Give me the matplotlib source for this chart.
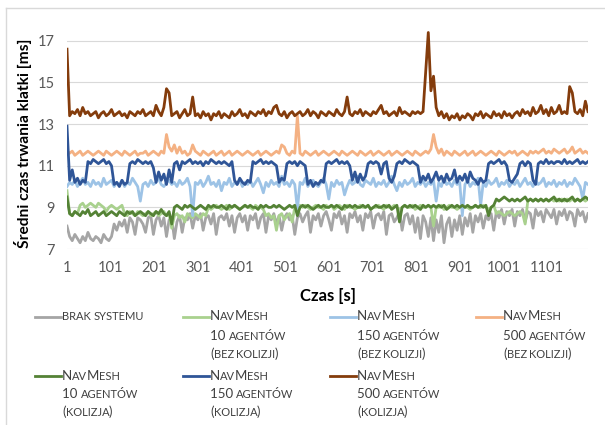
import matplotlib
matplotlib.use("Agg")
import matplotlib.pyplot as plt
import numpy as np
from matplotlib.lines import Line2D
from matplotlib.font_manager import FontProperties, findfont, get_font

plt.rcParams['font.family'] = ['Lato', 'DejaVu Sans']

# ---------------- data (sampled every 6 s, t = 1 .. 1195) ----------------
sample_step = 6
x_tick_labels = ['1', '101', '201', '301', '401', '501', '601', '701', '801', '901', '1001', '1101']
y_ticks = [7, 9, 11, 13, 15, 17]

brak_systemu = [
    8.1, 7.6, 7.4, 7.7, 7.5, 7.3, 7.6, 7.4, 7.8, 7.5,
    7.4, 7.6, 7.5, 7.3, 7.7, 7.5, 7.4, 7.6, 8.2, 7.9,
    8.3, 8.1, 8.4, 7.8, 8.5, 8.3, 7.7, 8.5, 8.4, 8.2,
    7.8, 8.5, 8.6, 7.7, 8.4, 8.6, 8.1, 8.5, 7.6, 8.4,
    8.5, 7.5, 8.3, 8.6, 7.8, 8.5, 8.4, 8.7, 8.0, 8.6,
    8.4, 8.7, 7.9, 8.5, 8.6, 8.2, 8.7, 7.7, 8.5, 8.6,
    8.4, 8.7, 8.1, 8.6, 7.8, 8.5, 8.7, 8.3, 8.6, 7.9,
    8.6, 8.4, 8.7, 8.0, 8.5, 8.7, 7.8, 8.6, 8.4, 8.7,
    8.2, 8.6, 7.9, 8.5, 8.7, 8.4, 8.6, 7.7, 8.5, 8.7,
    8.3, 8.6, 8.8, 7.8, 8.6, 8.4, 8.7, 8.1, 8.6, 8.8,
    8.4, 7.9, 8.7, 8.5, 8.8, 8.2, 8.6, 7.8, 8.7, 8.5,
    8.8, 8.3, 8.6, 7.9, 8.7, 8.5, 8.8, 8.0, 8.6, 8.7,
    8.4, 8.8, 7.7, 8.6, 8.7, 8.3, 8.5, 8.8, 7.9, 8.6,
    8.7, 8.2, 8.6, 7.8, 8.5, 7.5, 8.6, 8.3, 7.6, 8.5,
    7.4, 8.4, 7.8, 8.6, 7.3, 8.2, 8.5, 7.6, 8.4, 7.9,
    8.6, 7.7, 8.5, 8.1, 8.7, 7.8, 8.6, 8.3, 8.7, 8.0,
    8.6, 8.4, 8.7, 7.9, 8.8, 8.5, 8.9, 8.2, 8.8, 8.6,
    8.9, 8.1, 8.8, 8.6, 8.9, 8.3, 8.8, 8.7, 8.0, 8.9,
    8.6, 8.8, 8.3, 8.9, 8.7, 8.5, 8.9, 8.2, 8.8, 8.6,
    8.9, 8.4, 8.8, 8.7, 8.1, 8.9, 8.6, 8.8, 8.3, 8.7,
]

nav_10_bez = [
    9.8, 8.7, 8.6, 8.8, 8.7, 9.1, 9.2, 9.0, 9.1, 9.2,
    9.1, 9.0, 9.2, 9.1, 9.0, 8.8, 9.0, 9.1, 9.0, 8.9,
    9.0, 9.1, 8.7, 8.6, 8.8, 8.7, 8.6, 8.8, 8.7, 8.6,
    8.7, 8.8, 8.6, 8.7, 8.8, 8.6, 8.7, 8.8, 8.6, 8.7,
    8.0, 8.6, 8.7, 8.5, 8.6, 8.3, 8.7, 8.6, 8.5, 8.7,
    8.6, 8.5, 8.7, 8.6, 9.0, 8.9, 9.0, 9.1, 9.0, 8.9,
    9.0, 9.1, 8.9, 9.0, 9.1, 9.0, 8.9, 9.0, 9.1, 9.0,
    9.0, 8.9, 9.1, 9.0, 9.0, 8.9, 8.6, 8.7, 8.5, 8.6,
    7.9, 8.6, 8.7, 8.4, 8.6, 8.7, 8.3, 9.0, 8.9, 9.1,
    9.0, 9.1, 9.0, 8.9, 9.0, 9.1, 9.0, 9.0, 8.9, 9.1,
    9.0, 9.1, 8.9, 9.0, 9.1, 9.0, 8.9, 9.1, 9.0, 9.0,
    8.9, 9.0, 9.1, 9.0, 9.0, 9.1, 8.9, 9.0, 9.0, 9.1,
    9.0, 8.9, 9.1, 9.0, 9.0, 9.1, 9.0, 8.9, 9.0, 9.1,
    9.0, 9.0, 9.1, 8.9, 9.0, 9.1, 9.0, 9.0, 9.1, 9.0,
    8.1, 9.0, 9.0, 9.1, 8.9, 9.0, 9.1, 9.0, 9.0, 8.9,
    9.0, 9.1, 9.0, 9.0, 8.9, 9.0, 9.1, 9.0, 9.0, 9.1,
    9.0, 8.9, 9.0, 9.1, 8.7, 8.8, 8.7, 8.6, 8.7, 8.8,
    8.7, 8.6, 8.7, 8.8, 8.7, 8.2, 9.3, 9.4, 9.3, 9.4,
    9.3, 9.4, 9.3, 9.4, 9.3, 9.4, 9.3, 9.4, 9.3, 9.4,
    9.3, 9.4, 9.3, 9.4, 9.3, 9.4, 9.3, 9.4, 9.3, 9.4,
]

nav_150_bez = [
    10.0, 10.2, 10.1, 10.3, 10.0, 10.2, 10.4, 10.1, 10.2, 10.0,
    10.3, 10.1, 10.2, 10.0, 10.4, 10.1, 10.2, 10.3, 10.0, 10.2,
    10.1, 10.3, 10.0, 10.2, 10.1, 10.4, 10.2, 10.0, 9.3, 10.1,
    10.2, 10.0, 10.3, 10.1, 10.2, 10.4, 10.1, 10.0, 10.2, 10.3,
    10.1, 10.2, 10.0, 10.3, 10.1, 10.2, 10.4, 10.0, 8.6, 10.2,
    10.1, 10.3, 10.0, 10.2, 10.5, 10.1, 10.2, 10.0, 10.3, 9.8,
    10.2, 10.1, 10.4, 10.0, 10.2, 10.1, 10.3, 10.0, 10.2, 10.1,
    10.3, 10.0, 10.2, 10.4, 10.1, 9.7, 10.2, 10.0, 10.3, 10.1,
    10.2, 10.0, 10.5, 10.1, 10.2, 10.0, 10.3, 10.1, 8.9, 10.2,
    10.1, 10.4, 10.0, 10.2, 10.3, 10.1, 10.0, 10.2, 10.4, 10.1,
    9.4, 10.2, 10.0, 10.3, 10.1, 10.2, 9.6, 10.0, 10.3, 10.1,
    10.2, 10.5, 10.1, 10.0, 10.3, 10.2, 10.1, 10.4, 10.0, 10.2,
    10.1, 10.3, 10.0, 10.2, 10.5, 10.1, 9.8, 10.2, 10.0, 10.3,
    10.1, 10.2, 10.4, 10.0, 10.2, 10.1, 10.3, 10.0, 10.2, 10.1,
    10.3, 9.3, 10.2, 10.0, 10.4, 10.1, 10.2, 10.0, 10.3, 10.1,
    10.2, 8.6, 10.1, 10.3, 10.0, 10.2, 10.1, 10.4, 9.1, 10.2,
    10.0, 10.3, 10.1, 10.2, 10.4, 10.0, 10.2, 10.1, 10.3, 10.0,
    10.2, 10.1, 10.3, 10.0, 10.2, 10.4, 10.1, 10.2, 10.0, 10.3,
    10.1, 10.2, 10.4, 10.0, 10.2, 10.1, 10.3, 10.0, 10.2, 10.1,
    10.3, 10.0, 10.2, 10.1, 10.4, 10.2, 10.0, 9.4, 10.2, 10.1,
]

nav_500_bez = [
    11.7, 11.6, 11.7, 11.5, 11.6, 11.7, 11.5, 11.6, 11.7, 11.6,
    11.5, 11.6, 11.7, 11.6, 11.5, 11.7, 11.6, 11.5, 11.6, 11.7,
    11.6, 11.5, 11.7, 11.6, 11.5, 11.6, 11.7, 11.5, 11.6, 11.6,
    11.7, 11.5, 11.6, 11.7, 11.6, 11.5, 11.7, 11.6, 12.5, 11.9,
    11.7, 12.0, 11.6, 11.9, 11.6, 11.7, 11.5, 11.6, 12.0, 11.7,
    11.6, 11.5, 11.7, 11.6, 11.5, 11.6, 11.7, 11.5, 11.6, 11.7,
    11.5, 11.6, 11.7, 11.5, 11.6, 11.7, 11.6, 11.5, 11.6, 11.7,
    11.6, 11.5, 11.6, 11.7, 11.5, 11.6, 11.7, 11.6, 11.5, 11.6,
    11.7, 11.6, 12.0, 11.9, 11.6, 11.5, 11.7, 11.6, 13.4, 11.6,
    11.5, 11.7, 11.6, 11.5, 11.6, 11.7, 11.5, 11.6, 11.7, 11.6,
    11.5, 11.6, 11.7, 11.6, 11.5, 11.7, 11.6, 11.5, 11.6, 11.7,
    11.6, 11.5, 11.7, 11.6, 11.5, 11.6, 11.7, 11.5, 11.6, 11.7,
    11.6, 11.5, 11.6, 11.7, 11.5, 11.6, 11.7, 11.6, 11.5, 11.6,
    11.7, 11.6, 11.5, 11.7, 11.6, 11.5, 11.6, 11.7, 11.6, 11.8,
    12.5, 11.9, 11.6, 11.8, 11.5, 11.7, 11.6, 11.5, 11.7, 11.6,
    11.5, 11.6, 11.7, 11.5, 11.6, 11.7, 11.5, 11.6, 11.7, 11.6,
    11.5, 11.6, 11.7, 11.6, 11.5, 11.7, 11.6, 11.5, 11.6, 11.7,
    11.6, 11.7, 11.5, 11.6, 11.7, 11.6, 11.5, 11.7, 11.6, 11.7,
    11.6, 11.7, 11.8, 11.6, 11.7, 11.6, 11.8, 11.7, 11.6, 11.7,
    11.8, 11.6, 11.7, 11.9, 11.6, 11.7, 11.8, 11.6, 11.7, 11.6,
]

nav_10_kol = [
    9.5, 8.7, 8.6, 8.8, 8.7, 8.6, 8.8, 8.7, 8.9, 8.6,
    8.7, 8.8, 8.6, 8.7, 8.8, 8.6, 8.7, 8.8, 8.7, 8.6,
    8.8, 8.7, 8.6, 8.8, 8.7, 8.8, 8.6, 8.7, 8.8, 8.7,
    8.6, 8.8, 8.7, 8.6, 8.8, 8.7, 8.9, 8.7, 8.6, 8.8,
    8.2, 9.0, 9.1, 9.0, 8.9, 9.1, 9.0, 9.1, 9.0, 8.9,
    9.0, 9.1, 9.0, 8.9, 9.1, 9.0, 9.1, 9.0, 9.0, 9.1,
    9.0, 8.9, 9.1, 9.0, 9.1, 9.0, 8.9, 9.0, 9.1, 9.0,
    9.1, 9.0, 9.0, 8.9, 9.1, 9.0, 9.1, 9.0, 9.0, 9.1,
    9.0, 9.1, 9.0, 8.9, 9.0, 9.1, 9.0, 9.1, 8.6, 9.0,
    9.1, 9.0, 9.1, 9.0, 8.9, 9.0, 9.1, 9.0, 9.1, 9.0,
    9.0, 9.1, 9.0, 9.1, 9.0, 8.9, 9.1, 9.0, 9.1, 9.0,
    9.1, 9.0, 9.0, 9.1, 9.0, 9.1, 8.9, 9.0, 9.1, 9.0,
    9.0, 9.1, 9.0, 9.1, 8.9, 9.0, 9.1, 8.3, 9.0, 9.1,
    9.0, 9.1, 9.0, 9.1, 9.0, 8.9, 9.1, 9.0, 9.1, 9.0,
    9.1, 9.0, 9.1, 9.0, 9.1, 8.9, 9.0, 9.1, 9.0, 9.1,
    9.0, 9.1, 9.0, 9.1, 9.0, 9.0, 9.1, 9.0, 9.1, 9.0,
    9.1, 8.6, 9.0, 9.1, 9.4, 9.3, 9.4, 9.5, 9.4, 9.3,
    9.4, 9.3, 9.4, 9.3, 9.4, 9.5, 9.3, 9.4, 9.3, 9.4,
    9.3, 9.4, 9.3, 9.4, 9.3, 9.4, 9.5, 9.3, 9.4, 9.3,
    9.4, 9.3, 9.4, 9.5, 9.3, 9.4, 9.3, 9.4, 9.5, 9.4,
]

nav_150_kol = [
    12.9, 10.3, 10.8, 10.2, 10.4, 10.1, 10.3, 10.2, 11.2, 11.1,
    11.3, 11.2, 11.1, 11.2, 11.3, 11.1, 11.2, 11.0, 10.1, 10.2,
    10.0, 10.3, 10.1, 10.2, 11.1, 11.2, 11.1, 11.3, 11.2, 11.1,
    11.2, 11.1, 11.2, 10.9, 10.2, 10.7, 10.3, 10.6, 10.1, 10.8,
    10.2, 11.1, 11.2, 10.8, 11.2, 11.1, 11.2, 11.3, 11.1, 11.2,
    11.1, 11.2, 11.0, 11.2, 11.1, 11.3, 11.2, 11.1, 11.2, 11.1,
    11.2, 11.1, 11.0, 11.2, 10.3, 10.1, 10.4, 10.2, 10.1, 10.3,
    10.2, 11.2, 11.1, 11.2, 11.3, 11.1, 11.2, 11.1, 11.2, 11.1,
    11.0, 10.2, 10.4, 10.3, 11.1, 11.2, 11.1, 11.2, 11.0, 11.2,
    11.1, 11.0, 10.1, 10.3, 10.0, 10.2, 10.1, 10.3, 10.2, 11.1,
    11.2, 11.1, 11.2, 11.3, 11.1, 11.2, 11.1, 11.2, 11.0, 10.3,
    10.7, 10.2, 10.6, 10.3, 10.5, 11.1, 11.2, 11.1, 11.2, 11.1,
    10.6, 11.1, 11.2, 10.4, 10.2, 10.5, 11.1, 11.2, 11.1, 11.3,
    11.2, 11.1, 11.2, 11.1, 11.0, 10.2, 10.5, 10.3, 10.6, 10.2,
    10.4, 10.7, 10.3, 10.5, 10.2, 10.6, 10.3, 10.4, 10.8, 10.2,
    10.5, 10.3, 10.6, 10.2, 10.7, 10.4, 10.3, 10.1, 10.4, 10.2,
    10.3, 11.1, 11.2, 11.1, 11.2, 11.3, 11.1, 11.2, 11.0, 10.3,
    10.2, 10.4, 10.6, 11.1, 11.2, 11.0, 11.2, 11.1, 10.3, 10.1,
    11.1, 11.2, 11.1, 11.3, 11.1, 11.2, 11.1, 11.2, 11.2, 11.1,
    11.3, 11.1, 11.2, 11.1, 11.2, 11.3, 11.1, 11.2, 11.1, 11.2,
]

nav_500_kol = [
    16.6, 13.4, 13.6, 13.5, 13.7, 13.4, 13.8, 13.5, 13.6, 13.4,
    13.5, 13.6, 13.3, 13.5, 13.6, 13.4, 13.5, 13.7, 13.4, 13.5,
    13.6, 13.4, 13.5, 13.3, 13.6, 13.5, 13.4, 13.6, 13.5, 13.7,
    13.4, 13.5, 13.6, 13.4, 13.9, 13.6, 13.4, 13.8, 14.7, 14.5,
    13.4, 13.5, 13.6, 13.3, 13.5, 13.7, 13.4, 13.5, 14.3, 13.4,
    13.5, 13.3, 13.6, 13.4, 13.5, 13.2, 13.5, 13.4, 13.6, 13.3,
    13.5, 13.4, 13.3, 13.6, 13.4, 13.5, 13.7, 13.4, 13.5, 13.3,
    13.6, 13.5, 13.4, 13.6, 13.5, 13.7, 13.4, 13.6, 13.5, 13.8,
    13.9, 13.5, 13.4, 13.6, 13.3, 13.5, 13.6, 13.4, 13.5, 13.6,
    13.4, 13.5, 13.7, 13.4, 13.6, 13.5, 13.3, 13.6, 13.5, 13.4,
    13.6, 13.5, 13.4, 13.7, 13.5, 13.4, 13.6, 14.3, 13.5, 13.4,
    13.6, 13.5, 13.7, 13.4, 13.6, 13.5, 13.4, 13.6, 13.5, 13.7,
    13.9, 13.5, 13.6, 13.4, 13.5, 13.6, 13.4, 13.8, 13.5, 13.6,
    13.5, 13.4, 13.6, 13.5, 13.6, 13.5, 13.6, 15.5, 17.4, 14.6,
    15.3, 13.8, 13.4, 13.6, 13.3, 13.5, 13.2, 13.4, 13.3, 13.5,
    13.2, 13.4, 13.3, 13.5, 13.4, 13.2, 13.5, 13.4, 13.6, 13.3,
    13.5, 13.4, 13.3, 13.6, 13.4, 13.5, 13.3, 13.6, 13.4, 13.5,
    13.3, 13.5, 13.6, 13.4, 13.7, 13.5, 13.6, 13.4, 13.8, 13.5,
    13.6, 13.9, 13.5, 13.7, 13.4, 13.8, 13.5, 13.6, 13.9, 13.5,
    13.6, 13.5, 14.8, 14.5, 13.6, 13.5, 13.7, 13.4, 14.1, 13.6,
]

series_labels = [
    ['brak systemu'],
    ['NavMesh', '10 agentów', '(bez kolizji)'],
    ['NavMesh', '150 agentów', '(bez kolizji)'],
    ['NavMesh', '500 agentów', '(bez kolizji)'],
    ['NavMesh', '10 agentów', '(kolizja)'],
    ['NavMesh', '150 agentów', '(kolizja)'],
    ['NavMesh', '500 agentów', '(kolizja)'],
]
series_values = [brak_systemu, nav_10_bez, nav_150_bez, nav_500_bez,
                 nav_10_kol, nav_150_kol, nav_500_kol]
series_colors = ['#A5A5A5', '#A9D18E', '#9DC3E6', '#F4B183',
                 '#548235', '#2F5597', '#843C0C']

# ---------------- figure ----------------
W, H = 605, 425
DPI = 100
fig = plt.figure(figsize=(W / DPI, H / DPI), dpi=DPI)


def fx(px):
    return px / W


def fy(py):
    return 1 - py / H


ax_left, ax_right, ax_top, ax_bottom = 67, 588, 20, 249
ax = fig.add_axes([fx(ax_left), fy(ax_bottom), (ax_right - ax_left) / W, (ax_bottom - ax_top) / H])

for z, (vals, col) in enumerate(zip(series_values, series_colors)):
    t = np.arange(len(vals)) * sample_step + 1
    ax.plot(t, vals, color=col, lw=2.0, zorder=2 + z, solid_joinstyle='round')

ax.set_xlim(1, 1195)
ax.set_ylim(7, 18)
ax.set_yticks(y_ticks)
ax.set_yticklabels([str(v) for v in y_ticks])
ax.set_xticks([int(s) for s in x_tick_labels])
ax.set_xticklabels(x_tick_labels)
ax.tick_params(axis='both', length=0, labelsize=10.5, labelcolor='#595959')
ax.tick_params(axis='y', pad=9)
ax.tick_params(axis='x', pad=9)
ax.yaxis.grid(True, color='#D9D9D9', lw=0.8)
ax.set_axisbelow(True)
for s in ax.spines.values():
    s.set_visible(False)

fig.text(fx(23), fy(143), 'Średni czas trwania klatki [ms]', rotation=90,
         ha='center', va='center', fontsize=11.2, fontweight='bold', color='#000000')
fig.text(fx((ax_left + ax_right) / 2), fy(296), 'Czas [s]', ha='center', va='center',
         fontsize=12, fontweight='bold', color='#000000')

# chart-area border
fig.add_artist(Line2D([fx(6), fx(6)], [fy(8), fy(425)], color='#D9D9D9', lw=1,
                      transform=fig.transFigure))
fig.add_artist(Line2D([fx(6), fx(605)], [fy(8), fy(8)], color='#D9D9D9', lw=1,
                      transform=fig.transFigure))

# ---------------- legend with small caps ----------------
BIG, SMALL = 9.5, 8.0
TXT = '#404040'
_font_path = findfont(FontProperties(family='Lato'))


def advance_px(s, size_pt):
    font = get_font(_font_path)
    font.set_size(size_pt, DPI)
    total = 0.0
    for ch in s:
        g = font.load_char(ord(ch))
        total += g.linearHoriAdvance / 65536.0
    return total


def small_caps_runs(s):
    runs = []
    for ch in s:
        small = ch.islower()
        c = ch.upper() if small else ch
        if runs and runs[-1][1] == small:
            runs[-1][0] += c
        else:
            runs.append([c, small])
    return runs


def draw_small_caps(x_px, y_center_px, s):
    x = x_px
    base = y_center_px + 3.5  # baseline a little below the visual centre
    for txt, sm in small_caps_runs(s):
        size = SMALL if sm else BIG
        fig.text(fx(x), fy(base), txt, fontsize=size, color=TXT,
                 ha='left', va='baseline', family='Lato')
        x += advance_px(txt, size) - (0.9 if sm else 0.0)


col_text_x = [62, 210, 357, 503]
row_y = [[317, 336, 355], [376, 395, 413]]
for k, (lines, col) in enumerate(zip(series_labels, series_colors)):
    r, c = divmod(k, 4)
    xt = col_text_x[c]
    y0 = row_y[r][0]
    fig.add_artist(Line2D([fx(xt - 27), fx(xt - 1)], [fy(y0), fy(y0)], color=col, lw=2,
                          transform=fig.transFigure))
    for j, line in enumerate(lines):
        draw_small_caps(xt, row_y[r][j], line)

fig.savefig('out.png', dpi=DPI)
